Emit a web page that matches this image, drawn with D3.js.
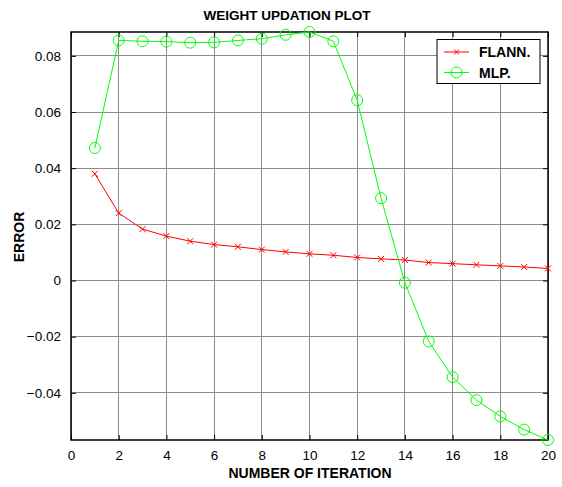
<!DOCTYPE html>
<html><head><meta charset="utf-8">
<script src="https://cdn.jsdelivr.net/npm/d3@7"></script>
<style>body{margin:0;background:#fff;} svg{display:block;}</style>
</head><body>
<svg id="chart" width="562" height="487"></svg>
<script>
const iterations = [1,2,3,4,5,6,7,8,9,10,11,12,13,14,15,16,17,18,19,20];
const flann = [0.0380,0.0240,0.0183,0.0158,0.0140,0.0128,0.0120,0.0110,0.0102,0.0095,0.0090,0.0082,0.0077,0.0073,0.0064,0.0060,0.0056,0.0052,0.0048,0.0043];
const mlp = [0.0472,0.0855,0.0852,0.0851,0.0847,0.0848,0.0855,0.0861,0.0875,0.0885,0.0852,0.0642,0.0293,-0.0008,-0.0217,-0.0344,-0.0426,-0.0484,-0.0531,-0.0568];
const xTicks = [0,2,4,6,8,10,12,14,16,18,20];
const yTicks = [-0.04,-0.02,0,0.02,0.04,0.06,0.08];
const seriesNames = ["FLANN.","MLP."];
const title = "WEIGHT UPDATION PLOT";
const xLabel = "NUMBER OF ITERATION";
const yLabel = "ERROR";

const svg = d3.select("#chart");
const L = 71, R = 548, T = 32, B = 440;
const x = d3.scaleLinear().domain([0,20]).range([L,R]);
const y = d3.scaleLinear().domain([d3.min(mlp), d3.max(mlp)]).range([B,T]);
const font = "'Liberation Sans', Arial, sans-serif";

// grid
const g = svg.append("g");
g.selectAll(".vx").data(xTicks).enter().append("line")
  .attr("x1",d=>x(d)).attr("x2",d=>x(d)).attr("y1",T).attr("y2",B)
  .attr("stroke","#8c8c8c").attr("stroke-width",1).attr("shape-rendering","crispEdges");
g.selectAll(".hy").data(yTicks).enter().append("line")
  .attr("x1",L).attr("x2",R).attr("y1",d=>y(d)).attr("y2",d=>y(d))
  .attr("stroke","#8c8c8c").attr("stroke-width",1).attr("shape-rendering","crispEdges");

// axes with inward ticks
const axB = d3.axisBottom(x).tickValues(xTicks).tickSize(-5).tickPadding(10).tickFormat(d3.format("d"));
const axT = d3.axisTop(x).tickValues(xTicks).tickSize(-5).tickFormat("");
const axLft = d3.axisLeft(y).tickValues(yTicks).tickSize(-5).tickPadding(10).tickFormat(d=> d===0 ? "0" : d3.format(".2f")(d));
const axRt = d3.axisRight(y).tickValues(yTicks).tickSize(-5).tickFormat("");
function style(sel){
  sel.select(".domain").attr("stroke","#000").attr("stroke-width",1.5);
  sel.selectAll(".tick line").attr("stroke","#000");
  sel.selectAll("text").attr("font-family",font).attr("font-size",13.5).attr("fill","#000");
}
svg.append("g").attr("transform",`translate(0,${B})`).call(axB).call(style);
svg.append("g").attr("transform",`translate(0,${T})`).call(axT).call(style);
svg.append("g").attr("transform",`translate(${L},0)`).call(axLft).call(style);
svg.append("g").attr("transform",`translate(${R},0)`).call(axRt).call(style);
svg.selectAll(".domain").attr("d", null);
svg.append("rect").attr("x",L).attr("y",T).attr("width",R-L).attr("height",B-T)
  .attr("fill","none").attr("stroke","#000").attr("stroke-width",1.5);

// lines
const line = (arr)=> d3.line().x((d,i)=>x(iterations[i])).y(d=>y(d))(arr);
svg.append("path").attr("d",line(flann)).attr("fill","none").attr("stroke","#ff0000").attr("stroke-width",1);
svg.append("path").attr("d",line(mlp)).attr("fill","none").attr("stroke","#00ff00").attr("stroke-width",1);

// markers
const cross = (sel,s)=> sel.append("path").attr("d",`M${-s},${-s}L${s},${s}M${-s},${s}L${s},${-s}`)
  .attr("stroke","#ff0000").attr("stroke-width",1).attr("fill","none");
svg.selectAll(".fm").data(flann).enter().append("g")
  .attr("transform",(d,i)=>`translate(${x(iterations[i])},${y(d)})`).each(function(){cross(d3.select(this),3);});
svg.selectAll(".mm").data(mlp).enter().append("circle")
  .attr("cx",(d,i)=>x(iterations[i])).attr("cy",d=>y(d)).attr("r",5.5)
  .attr("fill","none").attr("stroke","#00ff00").attr("stroke-width",1);

// legend
const lg = svg.append("g");
lg.append("rect").attr("x",437).attr("y",39.5).attr("width",103).attr("height",44)
  .attr("fill","#fff").attr("stroke","#000").attr("stroke-width",1);
lg.append("line").attr("x1",444).attr("x2",469).attr("y1",52).attr("y2",52).attr("stroke","#ff0000");
cross(lg.append("g").attr("transform","translate(456.5,52)"),2.5);
lg.append("line").attr("x1",444).attr("x2",469).attr("y1",72.5).attr("y2",72.5).attr("stroke","#00ff00");
lg.append("circle").attr("cx",456.5).attr("cy",72.5).attr("r",5.5).attr("fill","none").attr("stroke","#00ff00");
lg.selectAll("text.l").data(seriesNames).enter().append("text")
  .attr("x",479).attr("y",(d,i)=>57+i*20.5).text(d=>d)
  .attr("font-family",font).attr("font-weight","bold").attr("font-size",14).attr("fill","#000");

// labels
svg.append("text").attr("x",287).attr("y",20).attr("text-anchor","middle").text(title)
  .attr("font-family",font).attr("font-weight","bold").attr("font-size",13.5);
svg.append("text").attr("x",310).attr("y",478).attr("text-anchor","middle").text(xLabel)
  .attr("font-family",font).attr("font-weight","bold").attr("font-size",14);
svg.append("text").attr("transform","translate(24,237) rotate(-90)").attr("text-anchor","middle").text(yLabel)
  .attr("font-family",font).attr("font-weight","bold").attr("font-size",14);
</script>
</body></html>
